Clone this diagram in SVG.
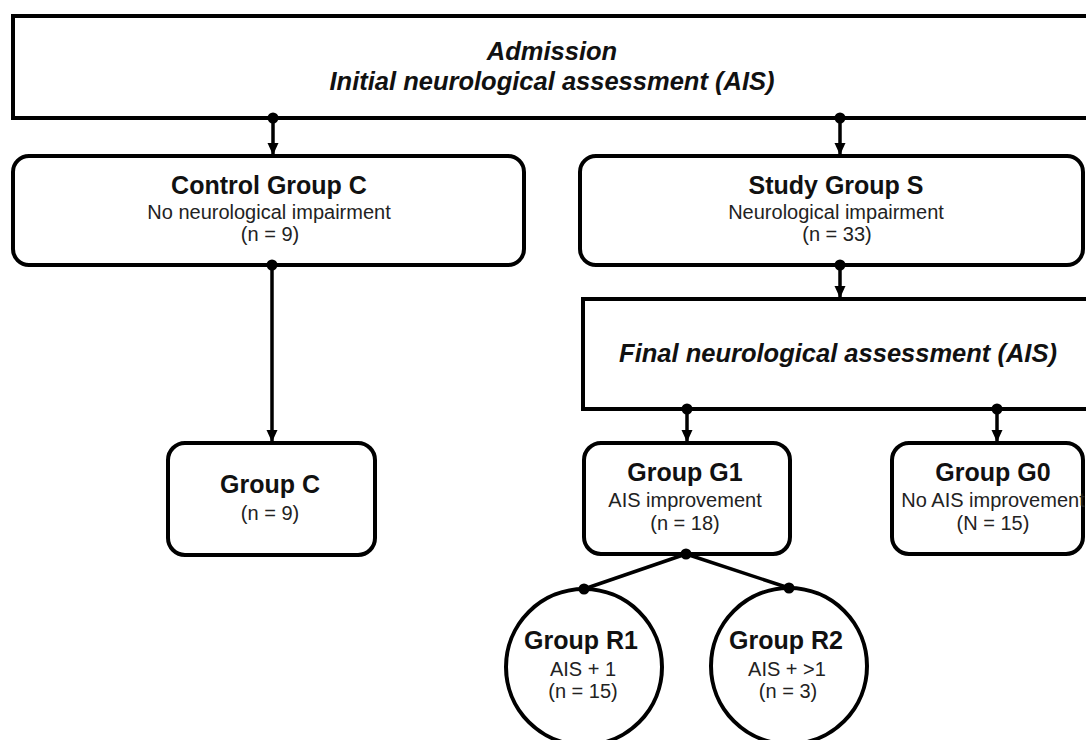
<svg xmlns="http://www.w3.org/2000/svg" width="1086" height="740" viewBox="0 0 1086 740">
  <style>
    .box { fill: #ffffff; stroke: #000000; stroke-width: 4; }
    .conn { fill: none; stroke: #000000; stroke-width: 3.5; }
    .dot { fill: #000000; }
    .bi { font-family: "Liberation Sans", Arial, sans-serif; font-weight: bold; font-style: italic; font-size: 25.5px; fill: #111; text-anchor: middle; }
    .t { font-family: "Liberation Sans", Arial, sans-serif; font-weight: bold; font-size: 25px; fill: #111; text-anchor: middle; }
    .s { font-family: "Liberation Sans", Arial, sans-serif; font-size: 20px; fill: #222; text-anchor: middle; }
  </style>
  <defs>
    <marker id="arrow" markerUnits="userSpaceOnUse" markerWidth="12" markerHeight="12" viewBox="0 0 12 12" refX="12" refY="6" orient="auto">
      <path d="M0,0.5 L12,6 L0,11.5 z" fill="#000000"/>
    </marker>
  </defs>
  <rect width="1086" height="740" fill="#ffffff"/>

  <g id="admission">
    <rect class="box" x="13" y="16" width="1100" height="102"/>
    <text class="bi" x="552" y="60">Admission</text>
    <text class="bi" x="552" y="90">Initial neurological assessment (AIS)</text>
  </g>

  <g id="control-group">
    <rect class="box" x="13" y="156" width="511" height="109" rx="16" ry="16"/>
    <text class="t" x="269" y="194">Control Group C</text>
    <text class="s" x="269" y="219">No neurological impairment</text>
    <text class="s" x="270" y="241">(n = 9)</text>
  </g>

  <g id="study-group">
    <rect class="box" x="580" y="156" width="503" height="109" rx="16" ry="16"/>
    <text class="t" x="836" y="194">Study Group S</text>
    <text class="s" x="836" y="219">Neurological impairment</text>
    <text class="s" x="837" y="241">(n = 33)</text>
  </g>

  <g id="final-assessment">
    <rect class="box" x="583" y="299" width="530" height="110"/>
    <text class="bi" x="838" y="362">Final neurological assessment (AIS)</text>
  </g>

  <g id="group-c">
    <rect class="box" x="168" y="443" width="207" height="112" rx="17" ry="17"/>
    <text class="t" x="270" y="493">Group C</text>
    <text class="s" x="270" y="520">(n = 9)</text>
  </g>

  <g id="group-g1">
    <rect class="box" x="584" y="443" width="206" height="111" rx="17" ry="17"/>
    <text class="t" x="685" y="481">Group G1</text>
    <text class="s" x="685" y="507">AIS improvement</text>
    <text class="s" x="685" y="530">(n = 18)</text>
  </g>

  <g id="group-g0">
    <rect class="box" x="892" y="443" width="191" height="111" rx="17" ry="17"/>
    <text class="t" x="993" y="481">Group G0</text>
    <text class="s" x="993" y="507">No AIS improvement</text>
    <text class="s" x="993" y="530">(N = 15)</text>
  </g>

  <g id="group-r1">
    <circle class="box" cx="584" cy="667" r="78"/>
    <text class="t" x="581" y="649">Group R1</text>
    <text class="s" x="583" y="676">AIS + 1</text>
    <text class="s" x="583" y="698">(n = 15)</text>
  </g>

  <g id="group-r2">
    <circle class="box" cx="789" cy="666" r="78"/>
    <text class="t" x="786" y="649">Group R2</text>
    <text class="s" x="787" y="676">AIS + &gt;1</text>
    <text class="s" x="788" y="698">(n = 3)</text>
  </g>

  <g id="connectors">
    <line class="conn" x1="273" y1="118" x2="273" y2="155" marker-end="url(#arrow)"/>
    <line class="conn" x1="840" y1="118" x2="840" y2="155" marker-end="url(#arrow)"/>
    <line class="conn" x1="272" y1="265" x2="272" y2="442" marker-end="url(#arrow)"/>
    <line class="conn" x1="840" y1="265" x2="840" y2="298" marker-end="url(#arrow)"/>
    <line class="conn" x1="687" y1="409" x2="687" y2="442" marker-end="url(#arrow)"/>
    <line class="conn" x1="997" y1="409" x2="997" y2="442" marker-end="url(#arrow)"/>
    <line class="conn" x1="686" y1="554" x2="584" y2="589"/>
    <line class="conn" x1="686" y1="554" x2="789" y2="588"/>
    <circle class="dot" cx="273" cy="118" r="5.5"/>
    <circle class="dot" cx="840" cy="118" r="5.5"/>
    <circle class="dot" cx="272" cy="265" r="5.5"/>
    <circle class="dot" cx="840" cy="265" r="5.5"/>
    <circle class="dot" cx="687" cy="409" r="5.5"/>
    <circle class="dot" cx="997" cy="409" r="5.5"/>
    <circle class="dot" cx="686" cy="554" r="5.5"/>
    <circle class="dot" cx="584" cy="589" r="5.5"/>
    <circle class="dot" cx="789" cy="588" r="5.5"/>
  </g>
</svg>
